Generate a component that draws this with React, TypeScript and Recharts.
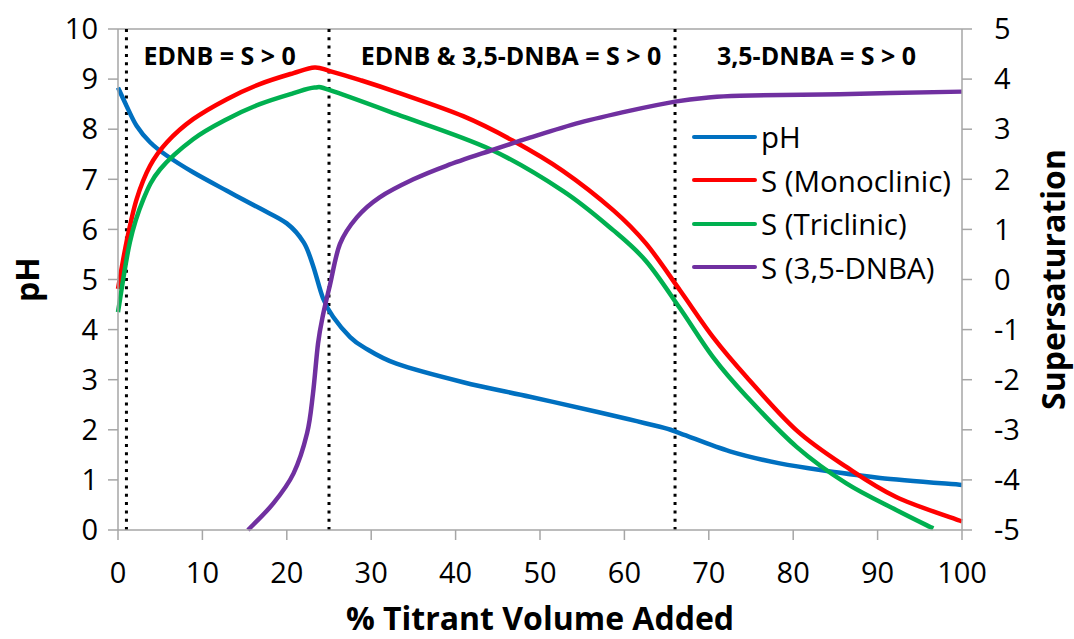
import React from "react";
import {
  LineChart,
  Line,
  XAxis,
  YAxis,
  ReferenceLine,
  ReferenceArea,
  Legend,
} from "recharts";

// % titrant volume added (x) and values
const phX = [0, 1, 2.2, 3.8, 5.8, 8.9, 12.9, 16.8, 20, 22, 23.1, 24.3, 25.5, 27.5, 29.1, 33, 40.9, 48.8, 56.7, 64.2, 66.6, 72.5, 78.4, 84.4, 90.3, 100];
const phY = [8.83, 8.47, 8.07, 7.74, 7.47, 7.14, 6.77, 6.42, 6.12, 5.74, 5.28, 4.62, 4.25, 3.85, 3.65, 3.32, 2.95, 2.66, 2.36, 2.06, 1.93, 1.57, 1.33, 1.17, 1.04, 0.9];

const monoX = [0, 1, 2.2, 3.8, 5.8, 8.9, 12.9, 16.8, 20.8, 23.3, 25.1, 28.7, 33, 40.9, 46.8, 52.7, 58.7, 62.6, 66.6, 70.5, 74.5, 80.4, 86.3, 92.2, 100];
const monoY = [-0.19, 0.74, 1.6, 2.27, 2.74, 3.2, 3.6, 3.9, 4.12, 4.23, 4.16, 3.98, 3.74, 3.26, 2.77, 2.17, 1.38, 0.71, -0.22, -1.15, -1.95, -3.01, -3.74, -4.34, -4.83];

const triX = [0, 1.4, 3, 5, 8.9, 12.9, 16.8, 20.8, 23.3, 25.1, 33, 44.1, 52.7, 58.7, 62.6, 66.6, 70.5, 74.5, 80.4, 86.3, 92.2, 96.6];
const triY = [-0.65, 0.74, 1.6, 2.2, 2.8, 3.2, 3.5, 3.72, 3.83, 3.78, 3.3, 2.6, 1.77, 0.98, 0.36, -0.58, -1.55, -2.34, -3.34, -4.07, -4.6, -4.97];

const dnbaX = [15.4, 18.4, 20.8, 22.4, 23.1, 23.7, 24.3, 25.1, 26.3, 28.3, 31, 35, 38.9, 44.1, 48.8, 54.7, 60.7, 66, 69.7, 73.7, 85.5, 100];
const dnbaY = [-5, -4.47, -3.87, -3.07, -2.28, -1.28, -0.7, -0.12, 0.71, 1.24, 1.64, 2.0, 2.27, 2.57, 2.83, 3.13, 3.37, 3.55, 3.63, 3.67, 3.7, 3.75];

const xTicks = [0, 10, 20, 30, 40, 50, 60, 70, 80, 90, 100];
const phTicks = [0, 1, 2, 3, 4, 5, 6, 7, 8, 9, 10];
const sTicks = [-5, -4, -3, -2, -1, 0, 1, 2, 3, 4, 5];

const boundaries = [1, 25, 66];
const regions = [
  { x1: 1, x2: 25, text: "EDNB = S > 0", dx: -8 },
  { x1: 25, x2: 66, text: "EDNB & 3,5-DNBA = S > 0", dx: 9 },
  { x1: 66, x2: 100, text: "3,5-DNBA = S > 0", dx: -2 },
];

const zip = (xs: number[], ys: number[]) => xs.map((x, i) => ({ x, y: ys[i] }));

const series = [
  { name: "pH", data: zip(phX, phY), color: "#0070c0", axis: "left" },
  { name: "S (Monoclinic)", data: zip(monoX, monoY), color: "#ff0000", axis: "right" },
  { name: "S (Triclinic)", data: zip(triX, triY), color: "#00b050", axis: "right" },
  { name: "S (3,5-DNBA)", data: zip(dnbaX, dnbaY), color: "#7030a0", axis: "right" },
];

// Excel-like smoothed line (Catmull-Rom through the points)
const smoothCurve = (context: any) => {
  let pts: number[][] = [];
  return {
    areaStart() {},
    areaEnd() {},
    lineStart() {
      pts = [];
    },
    point(x: number, y: number) {
      pts.push([+x, +y]);
    },
    lineEnd() {
      const n = pts.length;
      if (!n) return;
      context.moveTo(pts[0][0], pts[0][1]);
      for (let i = 0; i < n - 1; i++) {
        const p0 = pts[Math.max(i - 1, 0)];
        const p1 = pts[i];
        const p2 = pts[i + 1];
        const p3 = pts[Math.min(i + 2, n - 1)];
        context.bezierCurveTo(
          p1[0] + (p2[0] - p0[0]) / 6,
          p1[1] + (p2[1] - p0[1]) / 6,
          p2[0] - (p3[0] - p1[0]) / 6,
          p2[1] - (p3[1] - p1[1]) / 6,
          p2[0],
          p2[1]
        );
      }
    },
  };
};

const FONT = "'Open Sans', sans-serif";
const GRAY = "#a6a6a6";
const tickStyle = { fill: "#000", fontSize: 29, fontFamily: FONT };

const VerticalTitle = (props: any) => {
  const { viewBox, value, offsetX } = props;
  const cx = viewBox.x + offsetX;
  const cy = viewBox.y + viewBox.height / 2;
  return (
    <text
      x={cx}
      y={cy}
      transform={`rotate(-90 ${cx} ${cy})`}
      textAnchor="middle"
      dominantBaseline="central"
      fontWeight="bold"
      fontSize={32}
      fontFamily={FONT}
      fill="#000"
    >
      {value}
    </text>
  );
};

const LegendBox = () => (
  <div style={{ fontFamily: FONT, fontSize: 29.5, color: "#000" }}>
    {series.map((s) => (
      <div key={s.name} style={{ display: "flex", alignItems: "center", height: 43.5 }}>
        <div style={{ width: 65, height: 4, background: s.color, borderRadius: 2, marginRight: 4 }} />
        <span style={{ whiteSpace: "nowrap" }}>{s.name}</span>
      </div>
    ))}
  </div>
);

export default function App() {
  return (
    <div style={{ position: "absolute", left: 0, top: 0, background: "#fff" }}>
      <LineChart width={1074} height={639} margin={{ top: 29, right: 0, bottom: 0, left: 0 }}>
        <XAxis
          type="number"
          dataKey="x"
          domain={[0, 100]}
          ticks={xTicks}
          allowDuplicatedCategory={false}
          height={109}
          tickSize={10}
          tickMargin={22}
          tick={tickStyle}
          stroke={GRAY}
          strokeWidth={1.5}
          label={{
            value: "% Titrant Volume Added",
            position: "insideBottom",
            offset: 9,
            fontSize: 32,
            fontWeight: "bold",
            fontFamily: FONT,
            fill: "#000",
          }}
        />
        <YAxis
          yAxisId="left"
          domain={[0, 10]}
          ticks={phTicks}
          width={118}
          tickSize={10}
          tickMargin={10}
          tick={tickStyle}
          stroke={GRAY}
          strokeWidth={1.5}
          label={<VerticalTitle value="pH" offsetX={26} />}
        />
        <YAxis
          yAxisId="right"
          orientation="right"
          domain={[-5, 5]}
          ticks={sTicks}
          width={112}
          tickSize={10}
          tickMargin={22}
          tick={{ ...tickStyle, textAnchor: "start" }}
          stroke={GRAY}
          strokeWidth={1.5}
          label={<VerticalTitle value="Supersaturation" offsetX={90} />}
        />
        <ReferenceLine yAxisId="left" y={10} stroke={GRAY} strokeWidth={1.5} />
        {regions.map((r) => (
          <ReferenceArea
            key={r.text}
            yAxisId="left"
            x1={r.x1}
            x2={r.x2}
            y1={0}
            y2={10}
            fillOpacity={0}
            strokeOpacity={0}
            label={{
              value: r.text,
              position: "insideTop",
              offset: 18,
              dx: r.dx,
              fontSize: 25,
              fontWeight: "bold",
              fontFamily: FONT,
              fill: "#000",
            }}
          />
        ))}
        {boundaries.map((b) => (
          <ReferenceLine key={b} yAxisId="left" x={b} stroke="#000" strokeWidth={3} strokeDasharray="3 5.3" />
        ))}
        {series.map((s) => (
          <Line
            key={s.name}
            name={s.name}
            yAxisId={s.axis}
            data={s.data}
            dataKey="y"
            type={smoothCurve as any}
            stroke={s.color}
            strokeWidth={4.5}
            dot={false}
            activeDot={false}
            isAnimationActive={false}
          />
        ))}
        <Legend
          layout="vertical"
          align="center"
          verticalAlign="middle"
          content={<LegendBox />}
          wrapperStyle={{ position: "absolute", left: 692, top: 115, width: "auto" }}
        />
      </LineChart>
    </div>
  );
}
